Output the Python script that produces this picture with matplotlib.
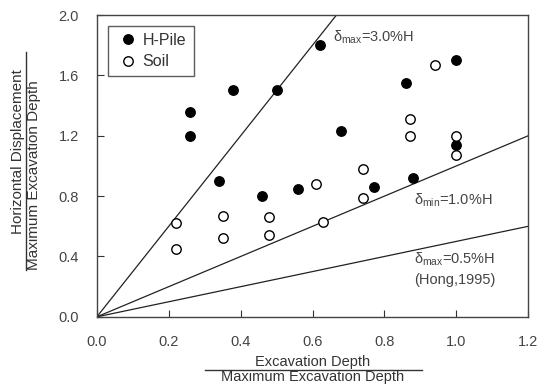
import matplotlib.pyplot as plt
from matplotlib.lines import Line2D

plt.rcParams['font.family'] = ['Liberation Sans', 'DejaVu Sans']

# H-Pile (filled) points
pile_x = [0.62, 1.00, 0.86, 0.38, 0.50, 0.26, 0.26, 0.68, 1.00, 0.34, 0.88, 0.46, 0.56, 0.77]
pile_y = [1.80, 1.70, 1.55, 1.50, 1.50, 1.36, 1.20, 1.23, 1.14, 0.90, 0.92, 0.80, 0.85, 0.86]

# Soil (open) points
soil_x = [0.94, 0.87, 0.87, 1.00, 1.00, 0.74, 0.61, 0.74, 0.22, 0.22, 0.35, 0.35, 0.48, 0.48, 0.63]
soil_y = [1.67, 1.31, 1.20, 1.20, 1.07, 0.98, 0.88, 0.79, 0.62, 0.45, 0.67, 0.52, 0.66, 0.54, 0.63]

# reference lines: ratio (slope) and label
slopes = [3.0, 1.0, 0.5]
line_labels = [r'δ$_{\mathregular{max}}$=3.0%H',
               r'δ$_{\mathregular{min}}$=1.0%H',
               'δ$_{\\mathregular{max}}$=0.5%H\n(Hong,1995)']
label_pos = [(0.657, 1.855), (0.883, 0.77), (0.883, 0.32)]

xticks = [0.0, 0.2, 0.4, 0.6, 0.8, 1.0, 1.2]
yticks = [0.0, 0.4, 0.8, 1.2, 1.6, 2.0]

fig = plt.figure(figsize=(5.44, 3.85), dpi=100)
ax = fig.add_axes([0.178, 0.177, 0.793, 0.784])

xx = [0.0, 1.2]
for s in slopes:
    ax.plot(xx, [0.0, s * 1.2], color='#222222', lw=0.9, zorder=1)

ax.plot(pile_x, pile_y, 'o', ms=6.8, mfc='black', mec='black', mew=1.0,
        label='H-Pile', zorder=3, clip_on=False)
ax.plot(soil_x, soil_y, 'o', ms=6.8, mfc='white', mec='black', mew=1.0,
        label='Soil', zorder=3, clip_on=False)

for lab, (tx, ty) in zip(line_labels, label_pos):
    ax.text(tx, ty, lab, fontsize=10.5, color='#444444', va='center', ha='left',
            linespacing=1.45)

ax.set_xlim(0, 1.2)
ax.set_ylim(0, 2.0)
ax.set_xticks(xticks)
ax.set_yticks(yticks)
ax.set_xticklabels([f'{v:.1f}' for v in xticks])
ax.set_yticklabels([f'{v:.1f}' for v in yticks])
ax.tick_params(direction='in', length=5, width=0.8, labelsize=10.5,
               labelcolor='#444444', color='#333333', pad=13)
for sp in ax.spines.values():
    sp.set_color('#444444')
    sp.set_linewidth(1.0)

leg = ax.legend(loc='upper left', bbox_to_anchor=(0.025, 0.965), fontsize=11.5,
                frameon=True, fancybox=False, handletextpad=0.15,
                handlelength=1.6, borderpad=0.45, labelspacing=0.4,
                borderaxespad=0)
leg.get_frame().set_edgecolor('#333333')
leg.get_frame().set_linewidth(1.0)
for t in leg.get_texts():
    t.set_color('#333333')

# fraction-style axis labels
fig.text(313 / 544, 1 - 362 / 385, 'Excavation Depth', ha='center', va='center',
         fontsize=10.5, color='#333333')
fig.text(313 / 544, 1 - 377 / 385, 'Maximum Excavation Depth', ha='center',
         va='center', fontsize=10.5, color='#333333')
fig.add_artist(Line2D([205 / 544, 422 / 544], [1 - 370 / 385, 1 - 370 / 385],
                      color='#333333', lw=1.0))

fig.text(18 / 544, 1 - 152 / 385, 'Horizontal Displacement', rotation=90,
         ha='center', va='center', fontsize=11, color='#333333')
fig.text(34 / 544, 1 - 175 / 385, 'Maximum Excavation Depth', rotation=90,
         ha='center', va='center', fontsize=11, color='#333333')
fig.add_artist(Line2D([26 / 544, 26 / 544], [1 - 52 / 385, 1 - 270 / 385],
                      color='#333333', lw=1.0))

fig.savefig('out.png', dpi=100)
